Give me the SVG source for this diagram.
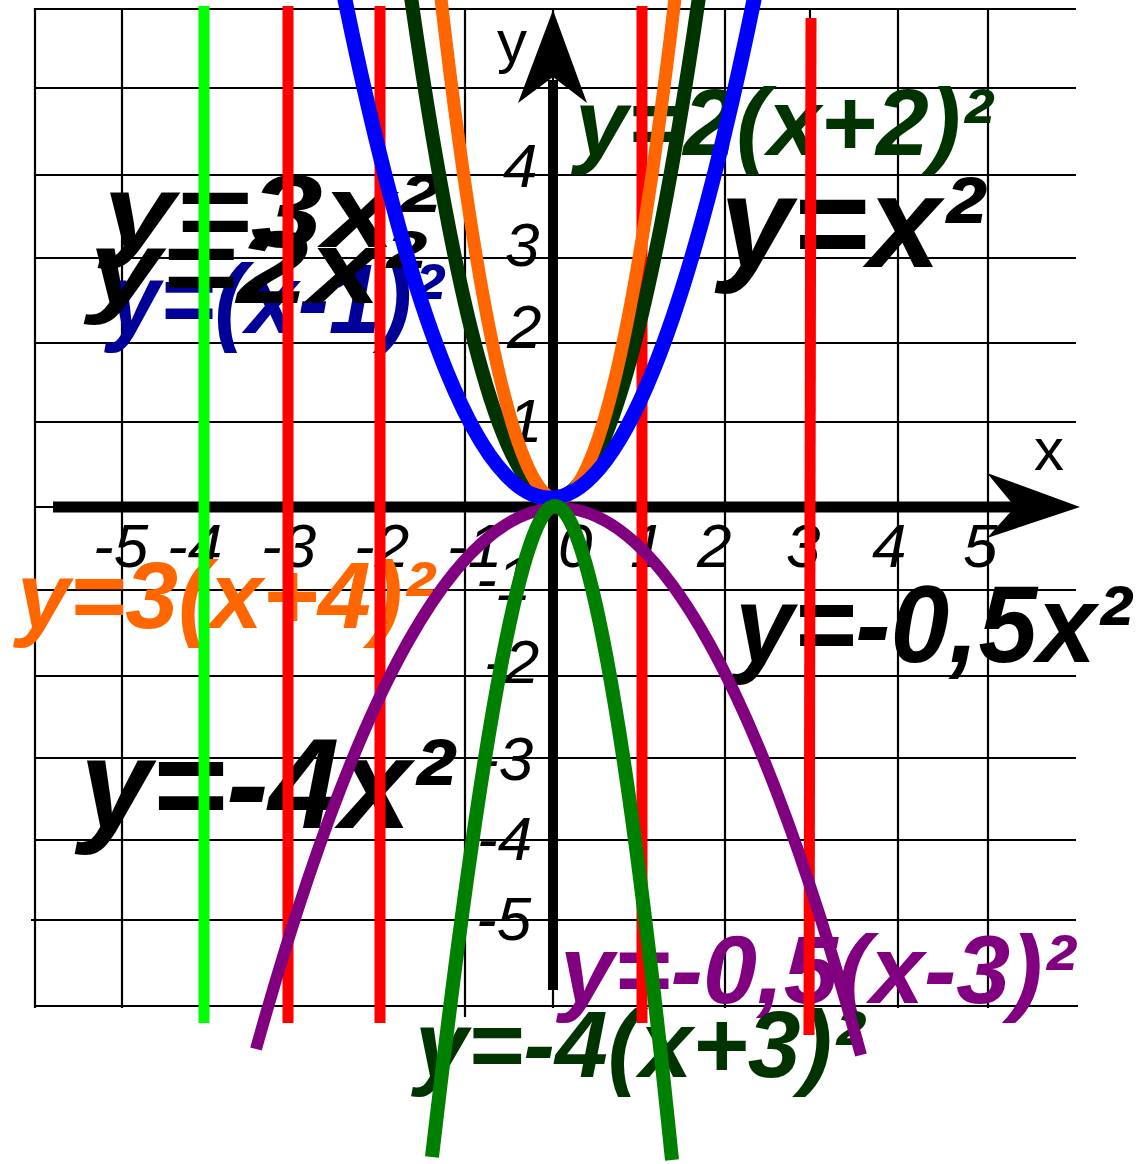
<svg xmlns="http://www.w3.org/2000/svg" width="1142" height="1164" viewBox="0 0 1142 1164">
<style>
.grid{stroke:#000;stroke-width:2.2;fill:none}
.tick{font-family:"Liberation Sans",Arial,sans-serif;font-style:italic;font-size:62px;fill:#000}
.axl{font-family:"Liberation Sans",Arial,sans-serif;font-size:60px;fill:#000}
.eq{font-family:"Liberation Sans",Arial,sans-serif;font-style:italic;font-weight:bold}
.vl{stroke-width:11;fill:none}
.cv{fill:none;stroke-linecap:butt}
</style>
<rect width="1142" height="1164" fill="#fff"/>
<g id="grid" class="grid">
<path d="M35,8V1008M122,9V1008M204,9V1008M288,9V1008M380,9V1008M465,9V1017M553,9V1008M642,9V1008M725,9V1008M810,9V1008M898,9V1008M988,9V1008"/>
<path d="M35,9H1076M35,88H1076M35,175H1076M35,258H1076M35,343H1076M35,422H1076M35,507H1076M35,590H1076M35,676H1076M35,758H1076M35,840H1076M31,920H1076M35,1006H1078"/>
</g>
<g id="axes">
<line x1="53" y1="507" x2="1020" y2="507" stroke="#000" stroke-width="11"/>
<polygon points="1080,507 987,473 1015,507 987,538" fill="#000"/>
<line x1="553" y1="990" x2="553" y2="80" stroke="#000" stroke-width="10"/>
<polygon points="553,10 518,103 553,77 587,103" fill="#000"/>
<text class="axl" x="497" y="62">y</text>
<text class="axl" x="1034" y="470">x</text>
</g>
<g id="ticks" class="tick">
<text x="93" y="567">-5</text>
<text x="167" y="567">-4</text>
<text x="261" y="567">-3</text>
<text x="354" y="567">-2</text>
<text x="447" y="567">-1</text>
<text x="558" y="567">0</text>
<text x="630" y="567">1</text>
<text x="697" y="567">2</text>
<text x="786" y="567">3</text>
<text x="872" y="567">4</text>
<text x="963" y="567">5</text>
<text x="503" y="187">4</text>
<text x="505" y="266">3</text>
<text x="507" y="348">2</text>
<text x="508" y="442">1</text>
<text x="476" y="600">-1</text>
<text x="484" y="683">-2</text>
<text x="478" y="780">-3</text>
<text x="477" y="860">-4</text>
<text x="476" y="940">-5</text>
</g>
<g id="equations" class="eq">
<text x="108" y="333" font-size="98" fill="#000099" textLength="335" lengthAdjust="spacingAndGlyphs">y=(x-1)²</text>
<text x="103" y="247" font-size="104" fill="#000" textLength="335" lengthAdjust="spacingAndGlyphs">y=3x²</text>
<text x="89" y="303" font-size="104" fill="#000" textLength="335" lengthAdjust="spacingAndGlyphs">y=2x²</text>
<text x="575" y="155" font-size="95" fill="#003300">y=2(x+2)²</text>
<text x="720" y="267" font-size="130" fill="#000">y=x²</text>
<text x="17" y="628" font-size="95" fill="#FF6600">y=3(x+4)²</text>
<text x="735" y="662" font-size="110" fill="#000" textLength="396" lengthAdjust="spacingAndGlyphs">y=-0,5x²</text>
<text x="80" y="828" font-size="128" fill="#000">y=-4x²</text>
<text x="560" y="1003" font-size="97" fill="#800080">y=-0,5(x-3)²</text>
<text x="415" y="1077" font-size="95" fill="#003300">y=-4(x+3)²</text>
</g>
<g id="vertical-lines" class="vl">
<line x1="204" y1="6" x2="204" y2="1023" stroke="#00FF00"/>
<line x1="288" y1="6" x2="288" y2="1023" stroke="#FF0000"/>
<line x1="380" y1="6" x2="380" y2="1023" stroke="#FF0000"/>
<line x1="642" y1="6" x2="642" y2="1023" stroke="#FF0000"/>
<line x1="811" y1="18" x2="809" y2="1035" stroke="#FF0000"/>
</g>
<g id="curves" class="cv">
<path d="M410,-10 Q554,1006 700,-10" stroke="#003300" stroke-width="14"/>
<path d="M440,-10 Q557,1008 676,-10" stroke="#FF6600" stroke-width="13"/>
<path d="M343,-10 Q550,1006 756,-10" stroke="#0000FF" stroke-width="15"/>
<path d="M256,1049 Q407,508 559,508 Q710,508 861,1055" stroke="#800080" stroke-width="12"/>
<path d="M432,1157 C485,700 525,506 555,506 C585,506 625,700 672,1160" stroke="#008000" stroke-width="14"/>
</g>
</svg>
